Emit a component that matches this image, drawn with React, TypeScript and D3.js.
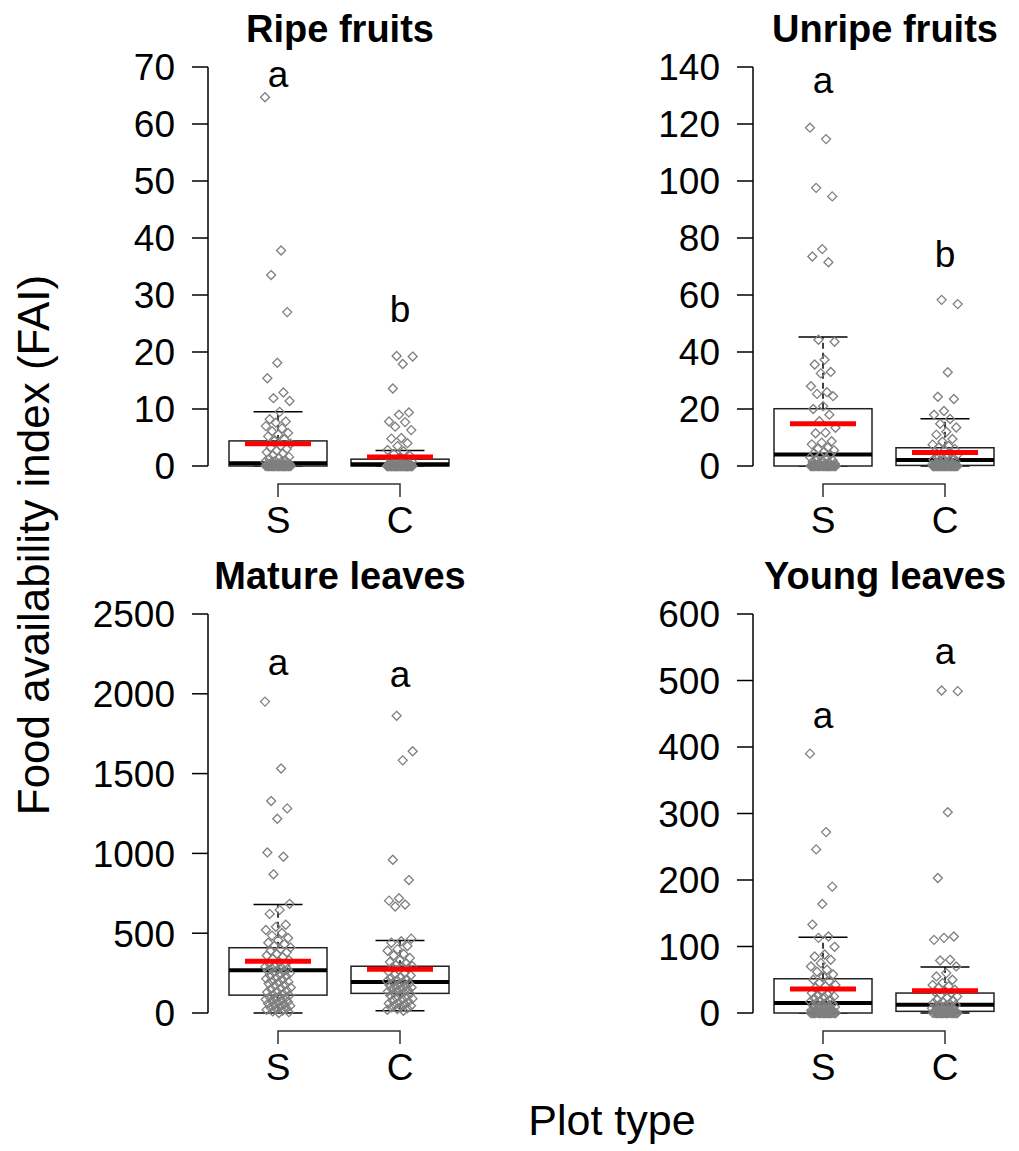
import React from 'react'
import * as d3 from 'd3'

// plot types on the x axis
const groups = ['S', 'C']

// FAI values per plot
const ripeS = [64.7, 37.8, 33.5, 27, 18.1, 15.4, 12.9, 11.9, 11.4, 9.5, 8.2, 7.8, 7.6, 7.0, 6.6, 6.1, 5.8, 5.5, 5.2, 4.7, 4.4, 3.9, 3.5, 3.2, 3.0, 2.7, 2.4, 2.2, 1.9, 1.6, 1.4, 1.3, 1.0, 0.9, 0.8, 0.7, 0.6, 0.5, 0.5, 0.4, 0.4, 0.3, 0.3, 0.2, 0.2, 0.1, 0.1, 0.1, 0, 0, 0, 0, 0, 0, 0, 0, 0, 0, 0, 0, 0, 0, 0, 0, 0, 0, 0, 0, 0, 0, 0, 0, 0, 0, 0, 0]
const ripeC = [19.3, 19.2, 17.9, 13.6, 9.4, 9.0, 7.8, 7.7, 6.9, 6.3, 4.9, 4.8, 4.0, 3.5, 2.8, 2.6, 2.1, 1.8, 1.5, 1.3, 1.1, 0.9, 0.7, 0.6, 0.5, 0.4, 0.4, 0.3, 0.3, 0.2, 0.2, 0.1, 0.1, 0, 0, 0, 0, 0, 0, 0, 0, 0, 0, 0, 0, 0, 0, 0, 0, 0, 0, 0, 0, 0, 0, 0, 0, 0, 0, 0, 0, 0, 0, 0, 0, 0, 0, 0, 0, 0]
const unripeS = [118.7, 114.7, 97.6, 94.6, 76.1, 73.5, 71.5, 44.3, 43.6, 37.3, 35.6, 33, 32.5, 28, 25.9, 25.3, 24.5, 21, 20, 18, 15.7, 13.4, 11.7, 11.5, 8.7, 8.2, 7.6, 6.5, 6, 5.5, 5, 4.5, 4, 3.5, 3, 2.8, 2.5, 2, 1.8, 1.5, 1.2, 1, 0.8, 0.6, 0.5, 0.3, 0.2, 0, 0, 0, 0, 0, 0, 0, 0, 0, 0, 0, 0, 0, 0, 0, 0, 0, 0, 0, 0, 0, 0, 0]
const unripeC = [58.3, 56.8, 32.9, 24.3, 23.5, 19.3, 18, 16.5, 14.8, 13.5, 12, 11, 9.5, 8.5, 7.5, 7, 6.5, 6, 5.5, 5, 4.5, 4, 3.8, 3.5, 3, 2.8, 2.5, 2.2, 2, 1.8, 1.5, 1.2, 1, 0.8, 0.6, 0.5, 0.3, 0.2, 0, 0, 0, 0, 0, 0, 0, 0, 0, 0, 0, 0, 0, 0, 0, 0, 0, 0, 0, 0, 0, 0, 0, 0, 0, 0]
const matureS = [1951, 1532, 1328, 1282, 1217, 1006, 979, 869, 684, 646, 621, 553, 540, 520, 501, 485, 470, 455, 440, 430, 420, 410, 400, 390, 380, 370, 360, 350, 340, 330, 320, 310, 300, 295, 290, 285, 280, 275, 270, 265, 260, 255, 250, 240, 235, 230, 220, 215, 210, 200, 195, 190, 185, 175, 170, 160, 155, 150, 140, 135, 130, 120, 115, 110, 105, 100, 95, 90, 85, 80, 75, 70, 65, 60, 55, 50, 45, 40, 35, 30, 25, 20, 15, 10, 5, 0]
const matureC = [1862, 1640, 1583, 960, 833, 719, 704, 680, 667, 466, 450, 440, 420, 400, 390, 370, 360, 345, 330, 320, 310, 300, 295, 290, 285, 280, 270, 260, 250, 240, 235, 225, 220, 210, 205, 200, 195, 190, 185, 180, 175, 170, 165, 160, 155, 150, 145, 140, 135, 130, 125, 120, 115, 110, 100, 95, 90, 85, 80, 70, 65, 60, 55, 50, 45, 40, 35, 30, 25, 20, 14]
const youngS = [390, 272, 246, 190, 164, 133, 115, 113, 99.5, 88, 85, 80, 75, 70, 65, 62, 58, 55, 50, 48, 45, 42, 40, 38, 35, 32, 30, 28, 27, 25, 24, 22, 20, 18, 17, 16, 15, 14, 13, 12, 11, 10, 9, 8, 7, 6, 5, 4, 3, 2, 1, 0, 0, 0, 0, 0, 0, 0, 0, 0, 0, 0, 0, 0, 0, 0, 0, 0, 0, 0]
const youngC = [485, 484, 302, 203, 115, 113, 110, 80, 79, 70, 60, 55, 50, 45, 42, 40, 38, 35, 33, 32, 30, 28, 25, 23, 20, 18, 16, 15, 14, 13, 12, 11, 10, 9, 8, 7, 6, 5, 4, 3, 2, 1, 0, 0, 0, 0, 0, 0, 0, 0, 0, 0, 0, 0, 0, 0, 0, 0, 0, 0, 0]

// box stats [lower whisker, q1, median, q3, upper whisker] for S and C
const ripeBox = [[0, 0, 0.5, 4.4, 9.5], [0, 0, 0.3, 1.2, 2.7]]
const unripeBox = [[0, 0, 4, 20.1, 45.3], [0, 0.2, 2.1, 6.4, 16.6]]
const matureBox = [[0, 112, 268, 409, 680], [14, 123, 195, 293, 455]]
const youngBox = [[0, 0, 15, 51.5, 114], [0, 2.5, 12.5, 30, 69]]

// means (red bars)
const ripeMean = [3.9, 1.6]
const unripeMean = [14.8, 4.7]
const matureMean = [324, 274]
const youngMean = [36, 33.5]

// significance letters and the value they sit at
const ripeLetters = [['a', 66.5], ['b', 25.3]]
const unripeLetters = [['a', 131], ['b', 70]]
const matureLetters = [['a', 2120], ['a', 2045]]
const youngLetters = [['a', 429], ['a', 525]]

const ripeTicks = d3.range(0, 71, 10)
const unripeTicks = d3.range(0, 141, 20)
const matureTicks = d3.range(0, 2501, 500)
const youngTicks = d3.range(0, 601, 100)

const panels = [
  { title: 'Ripe fruits', col: 0, row: 0, ticks: ripeTicks, data: [ripeS, ripeC], box: ripeBox, mean: ripeMean, letters: ripeLetters },
  { title: 'Unripe fruits', col: 1, row: 0, ticks: unripeTicks, data: [unripeS, unripeC], box: unripeBox, mean: unripeMean, letters: unripeLetters },
  { title: 'Mature leaves', col: 0, row: 1, ticks: matureTicks, data: [matureS, matureC], box: matureBox, mean: matureMean, letters: matureLetters },
  { title: 'Young leaves', col: 1, row: 1, ticks: youngTicks, data: [youngS, youngC], box: youngBox, mean: youngMean, letters: youngLetters },
]

const font = '"Liberation Sans", Arial, sans-serif'

const diamond = (cx, cy, r) => `M${cx},${cy - r}L${cx + r},${cy}L${cx},${cy + r}L${cx - r},${cy}Z`

const Panel = ({ p }) => {
  const ox = p.col * 545
  const oy = p.row * 547
  const axisX = 208 + ox
  const top = 67 + oy
  const bottom = 466 + oy
  const max = p.ticks[p.ticks.length - 1]
  const y = d3.scaleLinear().domain([0, max]).range([bottom, top])
  const x = d3.scalePoint().domain(groups).range([278 + ox, 400 + ox])
  const boxW = 98
  const meanW = 66
  const capW = 49

  return (
    <g>
      <text x={340 + ox} y={42 + oy} textAnchor="middle" fontSize={38} fontWeight="bold" fontFamily={font}>{p.title}</text>
      {/* y axis */}
      <line x1={axisX} x2={axisX} y1={bottom} y2={top} stroke="#000" strokeWidth={1.5} />
      {p.ticks.map(t => (
        <g key={t}>
          <line x1={axisX - 16} x2={axisX} y1={y(t)} y2={y(t)} stroke="#000" strokeWidth={1.5} />
          <text x={axisX - 33} y={y(t)} dy="0.36em" textAnchor="end" fontSize={37} fontFamily={font}>{t}</text>
        </g>
      ))}
      {/* x axis bracket */}
      <path d={`M${x('S')},${bottom + 31}V${bottom + 18}H${x('C')}V${bottom + 31}`} fill="none" stroke="#333" strokeWidth={1.5} />
      {groups.map(g => (
        <text key={g} x={x(g)} y={bottom + 67} textAnchor="middle" fontSize={37} fontFamily={font}>{g}</text>
      ))}
      {/* boxes */}
      {groups.map((g, gi) => {
        const [lo, q1, med, q3, hi] = p.box[gi]
        const cx = x(g)
        return (
          <g key={g}>
            <line x1={cx} x2={cx} y1={y(q3)} y2={y(hi)} stroke="#000" strokeWidth={1.5} strokeDasharray="6,4" />
            <line x1={cx} x2={cx} y1={y(q1)} y2={y(lo)} stroke="#000" strokeWidth={1.5} strokeDasharray="6,4" />
            <line x1={cx - capW / 2} x2={cx + capW / 2} y1={y(hi)} y2={y(hi)} stroke="#000" strokeWidth={1.5} />
            <line x1={cx - capW / 2} x2={cx + capW / 2} y1={y(lo)} y2={y(lo)} stroke="#000" strokeWidth={1.5} />
            <rect x={cx - boxW / 2} y={y(q3)} width={boxW} height={Math.max(y(q1) - y(q3), 0)} fill="#fff" stroke="#222" strokeWidth={1.5} />
            <line x1={cx - boxW / 2} x2={cx + boxW / 2} y1={y(med)} y2={y(med)} stroke="#000" strokeWidth={4} />
          </g>
        )
      })}
      {/* jittered points */}
      {groups.map((g, gi) => (
        <g key={g}>
          {p.data[gi].map((v, i) => {
            const jit = (((i * 0.6180339 + gi * 0.37) % 1) - 0.5) * 26
            return <path key={i} d={diamond(x(g) + jit, y(v), 4.5)} fill="none" stroke="#7f7f7f" strokeWidth={1.3} />
          })}
        </g>
      ))}
      {/* means */}
      {groups.map((g, gi) => (
        <line key={g} x1={x(g) - meanW / 2} x2={x(g) + meanW / 2} y1={y(p.mean[gi])} y2={y(p.mean[gi])} stroke="#ff0000" strokeWidth={5} />
      ))}
      {/* letters */}
      {groups.map((g, gi) => (
        <text key={g} x={x(g)} y={y(p.letters[gi][1])} textAnchor="middle" fontSize={37} fontFamily={font}>{p.letters[gi][0]}</text>
      ))}
    </g>
  )
}

export default function App() {
  return (
    <div style={{ position: 'absolute', left: 0, top: 0 }}>
      <svg width={1019} height={1151} style={{ display: 'block', background: '#fff' }}>
        {panels.map(p => <Panel key={p.title} p={p} />)}
        <text transform="translate(49,545) rotate(-90)" textAnchor="middle" fontSize={44} fontFamily={font}>Food availability index (FAI)</text>
        <text x={612} y={1135} textAnchor="middle" fontSize={43} fontFamily={font}>Plot type</text>
      </svg>
    </div>
  )
}
